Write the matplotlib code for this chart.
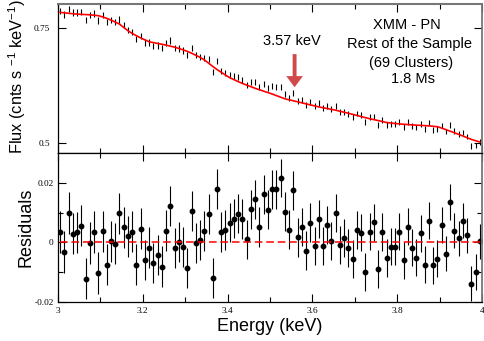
import numpy as np
import matplotlib
matplotlib.use('Agg')
import matplotlib.pyplot as plt

plt.rcParams['font.family'] = ['Liberation Sans', 'DejaVu Sans']
plt.rcParams['mathtext.fontset'] = 'custom'
plt.rcParams['mathtext.rm'] = 'Liberation Sans'
plt.rcParams['mathtext.default'] = 'regular'

# 0.01 keV bins between 3 and 4 keV (bin centres)
energy = np.arange(3.005, 4.0, 0.01)

# best-fit model (cnts s^-1 keV^-1)
model = [0.7848, 0.7838, 0.7828, 0.7818, 0.7810, 0.7805, 0.7800, 0.7795, 0.7786, 0.7776,
         0.7750, 0.7718, 0.7680, 0.7638, 0.7593, 0.7520, 0.7448, 0.7390, 0.7340, 0.7292,
         0.7250, 0.7209, 0.7190, 0.7172, 0.7155, 0.7135, 0.7113, 0.7091, 0.7063, 0.7032,
         0.7000, 0.6960, 0.6915, 0.6870, 0.6815, 0.6745, 0.6672, 0.6605, 0.6545, 0.6485,
         0.6427, 0.6385, 0.6342, 0.6301, 0.6266, 0.6231, 0.6196, 0.6165, 0.6134, 0.6103,
         0.6072, 0.6038, 0.6003, 0.5969, 0.5947, 0.5925, 0.5903, 0.5881, 0.5858, 0.5836,
         0.5814, 0.5792, 0.5774, 0.5756, 0.5738, 0.5720, 0.5697, 0.5675, 0.5653, 0.5630,
         0.5606, 0.5582, 0.5558, 0.5535, 0.5515, 0.5495, 0.5474, 0.5452, 0.5441, 0.5431,
         0.5422, 0.5414, 0.5408, 0.5401, 0.5395, 0.5390, 0.5385, 0.5379, 0.5370, 0.5361,
         0.5330, 0.5297, 0.5263, 0.5229, 0.5195, 0.5159, 0.5121, 0.5085, 0.5056, 0.5028]

# residuals (data - model)
resid = [0.0034, -0.0033, 0.0098, 0.0029, 0.0033, 0.0056, -0.0122, -0.0002, 0.0034, -0.0103,
         0.0037, -0.0076, 0.0003, -0.0005, 0.0098, 0.0051, 0.0020, 0.0036, -0.0075, 0.0045,
         -0.0059, -0.0018, -0.0070, -0.0042, -0.0082, 0.0039, 0.0122, -0.0019, 0.0000, -0.0016,
         -0.0088, 0.0105, -0.0003, 0.0008, 0.0039, 0.0094, -0.0121, 0.0180, 0.0035, 0.0040,
         0.0066, 0.0079, 0.0096, 0.0078, 0.0010, 0.0111, 0.0144, 0.0051, 0.0161, 0.0110,
         0.0178, 0.0178, 0.0216, 0.0103, 0.0042, 0.0175, 0.0017, 0.0051, -0.0028, 0.0066,
         -0.0012, 0.0077, -0.0012, 0.0058, 0.0003, 0.0100, -0.0008, 0.0015, -0.0018, -0.0056,
         0.0041, 0.0032, -0.0100, 0.0036, 0.0067, -0.0090, 0.0034, -0.0053, -0.0015, -0.0015,
         0.0036, -0.0060, 0.0053, -0.0018, -0.0052, 0.0030, -0.0075, 0.0073, -0.0078, -0.0055,
         0.0058, -0.0038, 0.0136, 0.0039, 0.0013, 0.0073, 0.0023, -0.0139, -0.0100, 0.0003]

# 1-sigma errors, one value per 0.1 keV stretch
err_block = [0.0070, 0.0069, 0.0068, 0.0067, 0.0066, 0.0065, 0.0064, 0.0063, 0.0062, 0.0060]

model = np.array(model)
resid = np.array(resid)
err = np.repeat(err_block, 10)
flux = model + resid

xticks = [3.0, 3.2, 3.4, 3.6, 3.8, 4.0]
xtick_labels = ['3', '3.2', '3.4', '3.6', '3.8', '4']
xminor = [3.1, 3.3, 3.5, 3.7, 3.9]

fig = plt.figure(figsize=(4.85, 3.41), dpi=100)
ax1 = fig.add_axes([58 / 485, 1 - 152.5 / 341, 424 / 485, 148.5 / 341])
ax2 = fig.add_axes([58 / 485, 1 - 301.7 / 341, 424 / 485, 149.2 / 341])

# top panel: spectrum + model
ax1.errorbar(energy, flux, yerr=err, fmt='none', ecolor='black', elinewidth=0.8, capsize=0, zorder=2)
ax1.plot(energy, model, color='red', lw=1.2, zorder=3)
ax1.set_ylim(0.48, 0.803)
ax1.set_yticks([0.5, 0.75])
ax1.set_yticklabels(['0.5', '0.75'])
ax1.set_ylabel(r'Flux (cnts s $^{-1}$ keV$^{-1}$)', fontsize=11.8)
ax1.yaxis.set_label_coords(-0.071, 0.51)

# bottom panel: residuals
ax2.errorbar(energy, resid, yerr=err, fmt='o', color='black', ms=3.2,
             elinewidth=0.8, capsize=0, zorder=2)
ax2.hlines(0, energy[0], energy[-1], colors='red', lw=1.1, linestyles=(0, (5, 2.5)), zorder=3)
ax2.set_ylim(-0.02, 0.0302)
ax2.set_yticks([-0.02, 0, 0.02])
ax2.set_yticklabels(['-0.02', '0', '0.02'])
ax2.set_yticks([-0.01, 0.01], minor=True)
ax2.set_ylabel('Residuals', fontsize=13)
ax2.yaxis.set_label_coords(-0.055, 0.5)
ax2.set_xlabel('Energy (keV)', fontsize=13)
ax2.xaxis.set_label_coords(0.5, -0.11)

for ax in (ax1, ax2):
    ax.set_xlim(3, 4)
    ax.set_xticks(xticks)
    ax.set_xticks(xminor, minor=True)
    ax.tick_params(which='both', direction='in', top=True, right=True, width=0.8)
    ax.tick_params(which='major', length=6)
    ax.tick_params(which='minor', length=3.5)
    for lab in ax.get_xticklabels() + ax.get_yticklabels():
        lab.set_family('Liberation Serif')
        lab.set_fontsize(6.7)
    for s in ax.spines.values():
        s.set_linewidth(0.9)
    ax.spines['right'].set_color('#777777')
    ax.spines['right'].set_linewidth(1.3)

ax1.spines['top'].set_color('#777777')
ax1.spines['top'].set_linewidth(1.5)
ax1.tick_params(axis='x', labelbottom=False)
ax1.tick_params(axis='y', pad=5.8)
ax2.tick_params(axis='y', pad=3.2)
ax2.tick_params(axis='x', pad=4)
ax2.set_xticklabels(xtick_labels)
for lab in ax2.get_xticklabels():
    lab.set_family('Liberation Serif')
    lab.set_fontsize(6.7)

# annotations
fig.text(406.5 / 485, 1 - 29.3 / 341, 'XMM - PN', ha='center', va='baseline', fontsize=10.5)
fig.text(410 / 485, 1 - 48.3 / 341, 'Rest of the Sample', ha='center', va='baseline', fontsize=10.5)
fig.text(410.8 / 485, 1 - 66.7 / 341, '(69 Clusters)', ha='center', va='baseline', fontsize=10.5)
fig.text(413 / 485, 1 - 83.3 / 341, '1.8 Ms', ha='center', va='baseline', fontsize=10.5)
fig.text(291.7 / 485, 1 - 45 / 341, '3.57 keV', ha='center', va='baseline', fontsize=10.5)

ax1.annotate('', xy=(3.558, 0.622), xytext=(3.558, 0.694),
             arrowprops=dict(width=2.8, headwidth=12, headlength=8, shrink=0,
                             color='#d0494b', lw=0))

fig.savefig('out.png', dpi=100)
